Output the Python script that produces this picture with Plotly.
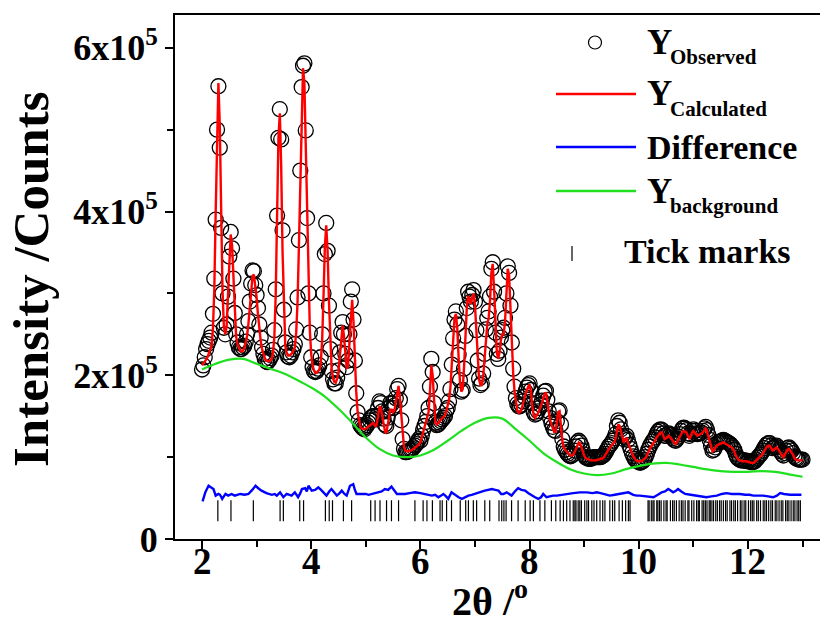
import numpy as np
import plotly.graph_objects as go

# ---- scan grid (degrees 2-theta) ----
THETA_START = 2.0
THETA_STEP = 0.025

# ---- observed intensity (kilo-counts), one value per scan step ----
obs_k = [
    207, 212, 222, 232, 238, 242, 246, 252, 275, 318, 390, 500, 553, 478, 380, 300, 258, 250, 262, 296,
    345, 375, 355, 318, 276, 250, 240, 234, 232, 232, 234, 236, 241, 250, 266, 290, 312, 328, 327, 310,
    298, 282, 262, 246, 234, 226, 220, 217, 216, 218, 221, 224, 231, 255, 305, 395, 490, 525, 488, 377,
    280, 240, 228, 223, 222, 224, 228, 232, 238, 256, 295, 365, 450, 552, 578, 581, 499, 392, 300, 252,
    222, 210, 205, 204, 205, 208, 212, 222, 250, 300, 348, 386, 352, 285, 232, 205, 195, 190, 190, 197,
    206, 228, 252, 265, 250, 226, 210, 218, 250, 290, 305, 268, 218, 178, 155, 145, 139, 137, 135, 134,
    137, 139, 142, 145, 148, 150, 150, 146, 150, 160, 168, 166, 156, 147, 140, 138, 148, 160, 166, 165,
    160, 163, 172, 183, 187, 170, 145, 122, 110, 106, 106, 107, 108, 109, 110, 112, 114, 116, 119, 122,
    120, 126, 133, 138, 143, 150, 160, 186, 220, 204, 166, 142, 139, 140, 142, 144, 146, 148, 150, 157,
    160, 168, 183, 213, 245, 268, 278, 262, 225, 194, 180, 182, 208, 248, 282, 302, 296, 290, 298, 304,
    290, 255, 218, 196, 188, 190, 202, 226, 256, 270, 278, 296, 330, 338, 302, 252, 226, 220, 230, 246,
    255, 258, 270, 300, 333, 325, 285, 240, 208, 186, 172, 165, 162, 162, 164, 168, 174, 180, 185, 188,
    190, 182, 166, 155, 152, 153, 156, 160, 164, 169, 175, 180, 181, 170, 156, 148, 142, 137, 133, 132,
    144, 156, 157, 140, 122, 113, 109, 106, 104, 102, 101, 102, 104, 108, 113, 118, 120, 118, 114, 108,
    103, 100, 99, 98, 98, 98, 99, 100, 100, 100, 100, 100, 100, 101, 102, 104, 107, 110, 113, 115,
    117, 120, 123, 128, 138, 145, 142, 134, 126, 122, 124, 126, 121, 115, 110, 105, 101, 98, 96, 95,
    94, 93, 94, 95, 97, 100, 104, 109, 113, 116, 119, 121, 124, 128, 131, 133, 134, 133, 129, 126,
    126, 128, 129, 127, 125, 123, 121, 120, 122, 125, 128, 132, 135, 136, 135, 133, 129, 126, 128, 132,
    134, 132, 129, 128, 129, 130, 130, 132, 135, 137, 133, 127, 121, 114, 108, 109, 112, 116, 118, 119,
    119, 120, 121, 120, 119, 118, 117, 116, 114, 112, 109, 104, 100, 98, 97, 96, 96, 96, 96, 95,
    95, 95, 94, 94, 94, 95, 97, 99, 101, 103, 105, 108, 111, 114, 116, 117, 117, 114, 111, 112,
    113, 114, 112, 109, 107, 104, 102, 105, 108, 111, 112, 110, 108, 105, 101, 99, 98, 97, 97, 97,
    97,
]

# ---- calculated profile (kilo-counts), same scan steps ----
calc_k = [
    212, 214, 216, 219, 222, 226, 230, 236, 257, 305, 398, 506, 557, 506, 398, 305, 260, 250, 259, 295,
    343, 372, 359, 314, 272, 247, 238, 233, 230, 229, 230, 233, 239, 248, 263, 286, 307, 321, 323, 311,
    295, 274, 256, 242, 232, 225, 221, 218, 217, 217, 218, 220, 227, 247, 299, 393, 490, 520, 456, 351,
    273, 236, 227, 224, 224, 225, 227, 230, 234, 252, 290, 358, 446, 530, 575, 557, 480, 388, 305, 255,
    226, 212, 206, 203, 203, 205, 207, 215, 242, 295, 356, 383, 352, 290, 236, 207, 196, 192, 191, 196,
    205, 225, 250, 261, 248, 225, 208, 212, 240, 275, 292, 265, 220, 180, 155, 143, 137, 135, 134, 134,
    135, 136, 137, 138, 140, 142, 141, 137, 140, 150, 162, 160, 150, 140, 132, 129, 138, 150, 158, 158,
    155, 157, 168, 180, 187, 172, 148, 125, 112, 108, 107, 107, 108, 108, 109, 110, 111, 112, 114, 116,
    118, 124, 130, 135, 140, 146, 155, 180, 212, 200, 165, 142, 140, 141, 143, 146, 148, 149, 151, 156,
    162, 170, 185, 215, 248, 270, 275, 258, 222, 192, 180, 183, 210, 250, 282, 297, 292, 287, 295, 300,
    285, 250, 215, 195, 188, 188, 198, 220, 248, 262, 270, 290, 325, 336, 305, 255, 228, 220, 228, 243,
    250, 250, 265, 298, 330, 322, 282, 235, 202, 180, 165, 157, 154, 155, 158, 163, 170, 177, 182, 186,
    189, 180, 162, 151, 148, 150, 153, 157, 161, 166, 172, 177, 179, 166, 152, 145, 140, 135, 131, 131,
    142, 155, 156, 138, 120, 112, 109, 107, 105, 103, 102, 102, 103, 106, 110, 115, 118, 117, 113, 107,
    102, 99, 98, 97, 96, 96, 96, 96, 96, 96, 97, 97, 98, 98, 99, 101, 104, 107, 110, 112,
    114, 116, 118, 122, 132, 140, 138, 130, 122, 118, 121, 124, 118, 113, 109, 105, 101, 98, 96, 95,
    95, 95, 95, 96, 97, 99, 102, 107, 110, 113, 115, 117, 120, 124, 126, 128, 130, 130, 126, 122,
    123, 125, 126, 124, 122, 120, 118, 116, 118, 121, 124, 128, 131, 132, 131, 130, 126, 122, 125, 130,
    132, 130, 127, 126, 127, 128, 128, 130, 133, 135, 131, 125, 120, 113, 107, 108, 111, 114, 115, 116,
    116, 117, 118, 117, 116, 116, 115, 114, 112, 110, 107, 102, 99, 97, 96, 95, 95, 95, 95, 95,
    94, 94, 93, 93, 93, 94, 96, 98, 99, 101, 102, 105, 108, 111, 113, 114, 114, 111, 108, 109,
    111, 112, 110, 107, 105, 102, 100, 103, 106, 109, 110, 108, 106, 103, 99, 97, 96, 96, 96, 96,
    96,
]

# ---- refined background (kilo-counts) ----
bg_theta = [2.0, 2.25, 2.5, 2.75, 3.0, 3.25, 3.5, 3.75, 4.0, 4.25, 4.5, 4.75, 5.0, 5.25, 5.5,
            5.75, 6.0, 6.25, 6.5, 6.75, 7.0, 7.25, 7.5, 7.75, 8.0, 8.25, 8.5, 8.75, 9.0, 9.25,
            9.5, 9.75, 10.0, 10.25, 10.5, 10.75, 11.0, 11.25, 11.5, 11.75, 12.0, 12.25, 12.5,
            12.75, 13.0]
bg_k = [207, 214, 219, 220, 214, 208, 202, 194, 185, 174, 159, 142, 124, 110, 102,
        100, 102, 109, 120, 132, 142, 148, 147, 134, 120, 105, 94, 85, 80, 78,
        80, 85, 89, 92, 93, 91, 88, 85, 83, 82, 82, 83, 82, 79, 76]

# ---- difference curve (obs - calc, shifted), kilo-counts ----
diff_theta = [2.01, 2.06, 2.12, 2.18, 2.21, 2.25, 2.30, 2.33, 2.37, 2.40, 2.43, 2.48, 2.54, 2.60,
              2.65, 2.70, 2.78, 2.85, 2.92, 2.98, 3.03, 3.09, 3.18, 3.28, 3.33, 3.37, 3.43, 3.49,
              3.55, 3.60, 3.64, 3.70, 3.76, 3.80, 3.83, 3.89, 3.92, 3.95, 4.01, 4.07, 4.13, 4.18,
              4.22, 4.28, 4.33, 4.37, 4.42, 4.47, 4.52, 4.56, 4.61, 4.65, 4.71, 4.77, 4.80, 4.83,
              4.90, 5.00, 5.05, 5.12, 5.18, 5.23, 5.29, 5.35, 5.41, 5.47, 5.52, 5.57, 5.63, 5.72,
              5.80, 5.90, 6.00, 6.09, 6.15, 6.21, 6.27, 6.33, 6.38, 6.42, 6.47, 6.51, 6.57, 6.63,
              6.70, 6.76, 6.82, 6.88, 6.94, 7.00, 7.08, 7.18, 7.25, 7.31, 7.37, 7.43, 7.48, 7.52,
              7.58, 7.63, 7.67, 7.73, 7.79, 7.85, 7.92, 7.98, 8.04, 8.10, 8.16, 8.21, 8.25, 8.31,
              8.37, 8.43, 8.50, 8.58, 8.68, 8.80, 8.92, 9.05, 9.15, 9.23, 9.30, 9.38, 9.47, 9.56,
              9.66, 9.75, 9.81, 9.90, 9.96, 10.02, 10.12, 10.20, 10.27, 10.35, 10.42, 10.48,
              10.54, 10.59, 10.63, 10.68, 10.72, 10.78, 10.85, 10.95, 11.06, 11.15, 11.24, 11.33,
              11.43, 11.52, 11.61, 11.70, 11.78, 11.85, 11.95, 12.03, 12.10, 12.20, 12.28, 12.37,
              12.46, 12.53, 12.59, 12.66, 12.72, 12.77, 12.85, 12.92, 12.98]
diff_k = [46, 57, 65, 63, 61, 53, 55, 54, 49, 52, 55, 53, 55, 53,
          54, 55, 54, 55, 60, 65, 62, 59, 56, 54, 55, 53, 57, 51,
          55, 54, 53, 57, 51, 56, 61, 62, 58, 65, 59, 60, 63, 60,
          57, 53, 58, 61, 57, 53, 56, 59, 55, 53, 65, 67, 60, 55,
          55, 55, 54, 55, 56, 57, 58, 61, 60, 64, 60, 55, 55, 55,
          56, 57, 56, 55, 54, 53, 54, 51, 53, 55, 52, 49, 57, 54,
          51, 49, 51, 53, 54, 55, 57, 59, 60, 61, 60, 59, 55, 55,
          57, 55, 53, 58, 62, 60, 59, 56, 53, 51, 49, 51, 55, 51,
          52, 53, 53, 54, 55, 56, 57, 57, 56, 57, 56, 55, 53, 54,
          55, 56, 57, 54, 53, 53, 52, 51, 51, 54, 57, 58,
          61, 59, 57, 59, 61, 58, 55, 54, 53, 52, 51, 52,
          53, 55, 56, 55, 55, 55, 54, 54, 53, 53, 53, 52,
          51, 53, 56, 55, 54, 54, 54, 54, 54]

# ---- Bragg reflection positions (degrees 2-theta) ----
reflections = [
    2.29, 2.53, 2.94, 3.43, 3.49, 3.79, 3.86, 4.26, 4.33, 4.39, 4.59, 4.74, 5.09, 5.17, 5.26,
    5.38, 5.47, 5.60, 5.90, 6.05, 6.12, 6.22, 6.36, 6.40, 6.48, 6.57, 6.73, 6.83, 6.88, 6.97,
    7.03, 7.18, 7.27, 7.44, 7.49, 7.53, 7.57, 7.67, 7.79, 7.92, 8.01, 8.07, 8.19, 8.28, 8.40,
    8.48, 8.56, 8.62, 8.68, 8.74, 8.80, 8.83, 8.85, 8.89, 8.92, 8.95, 9.01, 9.05, 9.08, 9.14,
    9.18, 9.23, 9.29, 9.34, 9.38, 9.47, 9.52, 9.56, 9.64, 9.70, 9.76, 9.81, 9.84,
    10.17, 10.19, 10.23, 10.26, 10.28, 10.33, 10.35, 10.38, 10.41, 10.46, 10.50, 10.52, 10.58,
    10.62, 10.65, 10.69, 10.74, 10.78, 10.81, 10.85, 10.90, 10.92, 10.97, 11.01, 11.06, 11.09,
    11.11, 11.16, 11.19, 11.22, 11.25, 11.29, 11.31, 11.34, 11.37, 11.41, 11.44, 11.48, 11.51,
    11.55, 11.59, 11.62, 11.67, 11.70, 11.74, 11.77, 11.81, 11.86, 11.89, 11.93, 11.96, 12.01,
    12.05, 12.08, 12.11, 12.16, 12.19, 12.23, 12.28, 12.31, 12.34, 12.38, 12.42, 12.45, 12.50,
    12.53, 12.57, 12.61, 12.64, 12.69, 12.72, 12.75, 12.79, 12.83, 12.86, 12.90, 12.93, 12.96,
]
REFLECTION_LEVEL_K = 34.5

# ---- axis tick labels ----
x_major = [2, 4, 6, 8, 10, 12]
x_minor = [3, 5, 7, 9, 11, 13]
y_major = [0, 2e5, 4e5, 6e5]
y_labels = ["0", "2x10<sup>5</sup>", "4x10<sup>5</sup>", "6x10<sup>5</sup>"]
y_minor = [1e5, 3e5, 5e5]

theta = THETA_START + THETA_STEP * np.arange(len(obs_k))
obs = np.array(obs_k) * 1e3
calc = np.array(calc_k) * 1e3
bg = np.array(bg_k) * 1e3
diff = np.array(diff_k) * 1e3

FONT = "Liberation Serif"
RED, BLUE, GREEN = "#ff0000", "#0000ff", "#1ee01e"

fig = go.Figure()
fig.add_trace(go.Scatter(
    x=theta, y=obs, mode="markers",
    marker=dict(symbol="circle-open", size=15, color="black", line=dict(width=1.3, color="black")),
    name="Y Observed"))
fig.add_trace(go.Scatter(
    x=bg_theta, y=bg, mode="lines", line=dict(color=GREEN, width=2.2, shape="spline"),
    name="Y background"))
fig.add_trace(go.Scatter(
    x=theta, y=calc, mode="lines", line=dict(color=RED, width=2.4), name="Y Calculated"))
fig.add_trace(go.Scatter(
    x=diff_theta, y=diff, mode="lines", line=dict(color=BLUE, width=2.4), name="Difference"))
fig.add_trace(go.Scatter(
    x=reflections, y=[REFLECTION_LEVEL_K * 1e3] * len(reflections), mode="markers",
    marker=dict(symbol="line-ns", size=15, line=dict(width=1.2, color="black")),
    name="Tick marks"))

# plot area: 645 x 524 px
W, H = 820, 626
L, R, T, B = 175, 0, 15, 87
PW, PH = W - L - R, H - T - B


def px(xp):
    return (xp - L) / PW


def py(yp):
    return (H - B - yp) / PH


shapes = [
    dict(type="circle", xref="paper", yref="paper", x0=px(588.5), x1=px(601.5),
         y0=py(49), y1=py(36), line=dict(color="black", width=1.2)),
    dict(type="line", xref="paper", yref="paper", x0=px(556), x1=px(636), y0=py(94), y1=py(94),
         line=dict(color=RED, width=2.4)),
    dict(type="line", xref="paper", yref="paper", x0=px(556), x1=px(636), y0=py(147), y1=py(147),
         line=dict(color=BLUE, width=2.4)),
    dict(type="line", xref="paper", yref="paper", x0=px(556), x1=px(636), y0=py(191), y1=py(191),
         line=dict(color=GREEN, width=2.4)),
    dict(type="line", xref="paper", yref="paper", x0=px(572), x1=px(572), y0=py(246), y1=py(261),
         line=dict(color="black", width=1.2)),
]


def label(text, xp, yp, size, **kw):
    return dict(text=text, xref="paper", yref="paper", x=px(xp), y=py(yp), xanchor="left",
                yanchor="middle", showarrow=False,
                font=dict(family=FONT, size=size, color="black", weight="bold"), **kw)


annotations = [
    label("Y", 645, 42, 35), label("Observed", 668, 57, 21),
    label("Y", 645, 94, 35), label("Calculated", 668, 109, 21),
    label("Difference", 645, 147, 34),
    label("Y", 645, 191, 35), label("background", 668, 206, 21),
    label("Tick marks", 622, 252, 34),
    dict(text="Intensity /Counts", xref="paper", yref="paper", x=px(31), y=py(279),
         xanchor="center", yanchor="middle", textangle=-90, showarrow=False,
         font=dict(family=FONT, size=51, color="black", weight="bold")),
    dict(text="2θ /<sup>o</sup>", xref="paper", yref="paper", x=px(490), y=py(598),
         xanchor="center", yanchor="middle", showarrow=False, borderpad=0,
         font=dict(family=FONT, size=40, color="black", weight="bold")),
]
# x tick labels, set just under the axis line
for v in x_major:
    annotations.append(dict(text=str(v), xref="x", yref="paper", x=v, y=py(561),
                            xanchor="center", yanchor="middle", showarrow=False, borderpad=0,
                            font=dict(family=FONT, size=37, color="black", weight="bold")))

axis_common = dict(showline=True, linecolor="black", linewidth=2, ticks="outside",
                   ticklen=8, tickwidth=2, tickcolor="black", showgrid=False, zeroline=False)

fig.update_layout(
    width=W, height=H,
    margin=dict(l=L, r=R, t=T, b=B),
    plot_bgcolor="white", paper_bgcolor="white",
    showlegend=False,
    font=dict(family=FONT, color="black"),
    xaxis=dict(range=[1.505, 13.32], tickvals=x_major, mirror=True, showticklabels=False,
               minor=dict(tickvals=x_minor, ticks="outside", ticklen=6, tickwidth=2,
                          tickcolor="black", showgrid=False),
               **axis_common),
    yaxis=dict(range=[0, 6.4e5], tickvals=y_major, ticktext=y_labels,
               tickfont=dict(family=FONT, size=36, color="black", weight="bold"),
               minor=dict(tickvals=y_minor, ticks="outside", ticklen=6, tickwidth=2,
                          tickcolor="black", showgrid=False),
               **axis_common),
    shapes=shapes,
    annotations=annotations,
)

fig.write_html("out.html")
